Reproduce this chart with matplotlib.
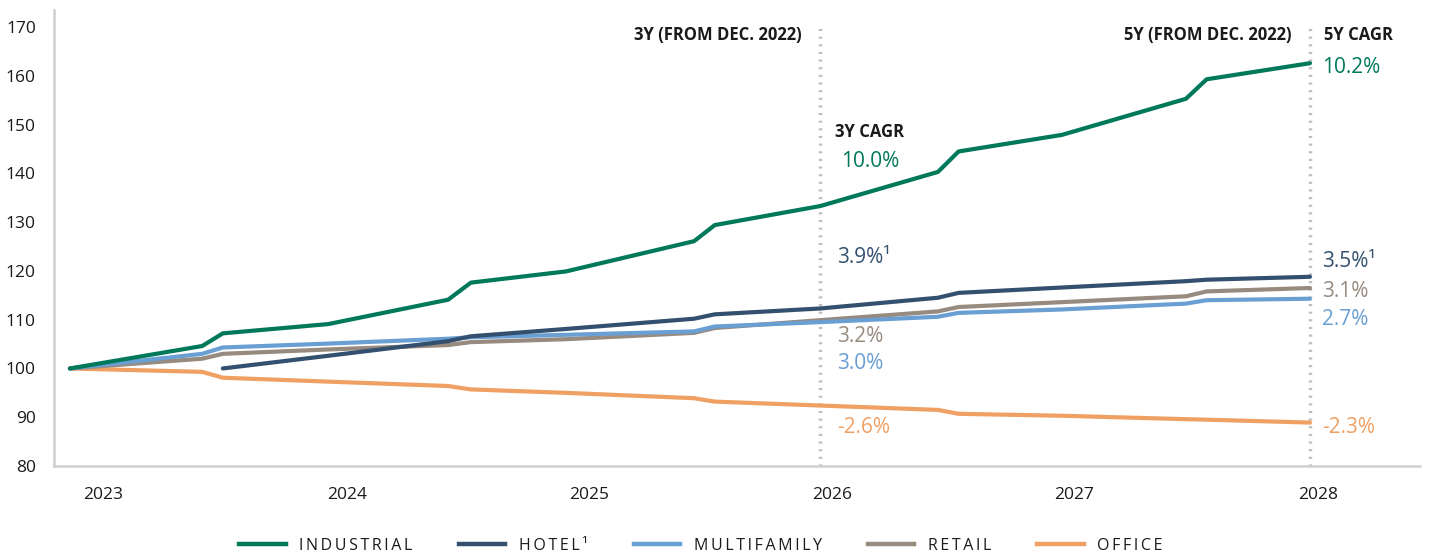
import matplotlib
matplotlib.use("Agg")
import matplotlib.pyplot as plt
from matplotlib.lines import Line2D

plt.rcParams['font.family'] = ['Open Sans', 'DejaVu Sans']

# months after Dec. 2022
months = [0, 6.4, 7.4, 12.5, 18.3, 19.4, 24, 30.2, 31.2, 36.3, 42, 43, 48, 54, 55, 60]
hotel_months = months[2:]

industrial = [100, 104.6, 107.2, 109.1, 114.1, 117.6, 119.9, 126.1, 129.4, 133.3,
              140.3, 144.5, 147.9, 155.3, 159.3, 162.6]
hotel = [100, 102.6, 105.6, 106.6, 108.1, 110.2, 111.1, 112.3,
         114.5, 115.5, 116.6, 117.9, 118.2, 118.8]
multifamily = [100, 103.0, 104.3, 105.1, 106.1, 106.4, 106.9, 107.6, 108.6, 109.5,
               110.6, 111.4, 112.1, 113.3, 114.0, 114.3]
retail = [100, 102.0, 103.0, 103.9, 104.8, 105.4, 106.0, 107.3, 108.3, 109.9,
          111.7, 112.6, 113.6, 114.8, 115.8, 116.5]
office = [100, 99.3, 98.1, 97.3, 96.4, 95.7, 95.0, 93.9, 93.2, 92.4,
          91.5, 90.7, 90.3, 89.6, 89.5, 88.9]

year_labels = ['2023', '2024', '2025', '2026', '2027', '2028']
year_pos = [1.6, 13.4, 25.1, 36.9, 48.6, 60.4]
period_ends = [36.3, 60]

cagr_3y = ['10.0%', '3.9%\u00b9', '3.2%', '3.0%', '-2.6%']
cagr_3y_y = [142.4, 122.7, 106.6, 101.0, 87.9]
cagr_5y = ['10.2%', '3.5%\u00b9', '3.1%', '2.7%', '-2.3%']
cagr_5y_y = [161.7, 121.9, 115.8, 110.0, 87.9]

names = ['INDUSTRIAL', 'HOTEL\u00b9', 'MULTIFAMILY', 'RETAIL', 'OFFICE']

c_ind = '#00785a'
c_hot = '#34506f'
c_mul = '#6a9fd4'
c_ret = '#978a7e'
c_off = '#f0a062'
label_colors = [c_ind, c_hot, c_ret, c_mul, c_off]

fig = plt.figure(figsize=(14.47, 5.58), dpi=100)
ax = fig.add_axes([0.0373, 0.1649, 0.9437, 0.8171])

lw = 3
style = dict(lw=lw, solid_capstyle='round', solid_joinstyle='round')
ax.plot(months, office, color=c_off, **style)
ax.plot(months, retail, color=c_ret, **style)
ax.plot(months, multifamily, color=c_mul, **style)
ax.plot(hotel_months, hotel, color=c_hot, **style)
ax.plot(months, industrial, color=c_ind, **style)

# period markers
ax.vlines(period_ends, 80, 170.5, colors='#bdbdbd', linestyles=(0, (0.6, 1.6)), lw=2.5, zorder=1)

ax.set_xlim(-0.77, 65.3)
ax.set_ylim(80, 173.5)
ax.set_yticks(range(80, 171, 10))
ax.set_xticks(year_pos)
ax.set_xticklabels(year_labels)
ax.tick_params(axis='y', length=0, pad=13, labelsize=12.5, labelcolor='#1a1a1a')
ax.tick_params(axis='x', length=0, pad=15, labelsize=12.5, labelcolor='#1a1a1a')
for s in ['top', 'right']:
    ax.spines[s].set_visible(False)
for s in ['left', 'bottom']:
    ax.spines[s].set_color('#d0d0d0')
    ax.spines[s].set_linewidth(1.8)

hdr = dict(fontsize=12, fontweight='bold', color='#1a1a1a', va='center')
ax.text(35.4, 168.4, '3Y (FROM DEC. 2022)', ha='right', **hdr)
ax.text(59.1, 168.4, '5Y (FROM DEC. 2022)', ha='right', **hdr)
ax.text(60.7, 168.4, '5Y CAGR', ha='left', **hdr)
ax.text(37.0, 148.4, '3Y CAGR', ha='left', **hdr)

for txt, yy, col in zip(cagr_3y, cagr_3y_y, label_colors):
    ax.text(37.3 if txt == '10.0%' else 37.1, yy, txt, color=col, fontsize=15, va='center', ha='left')
for txt, yy, col in zip(cagr_5y, cagr_5y_y, label_colors):
    ax.text(60.6, yy, txt, color=col, fontsize=15, va='center', ha='left')

# tracked-out legend labels (thin spaces between letters)
spaced = ['\u2009'.join(n) for n in names]
handles = [Line2D([], [], color=c, lw=3.2) for c in [c_ind, c_hot, c_mul, c_ret, c_off]]
fig.legend(handles, spaced, ncol=5, loc='center', bbox_to_anchor=(701 / 1447, 1 - 546 / 558),
           frameon=False, fontsize=11.5, handlelength=2.9, handletextpad=0.85, columnspacing=2.9,
           labelcolor='#1a1a1a')

fig.savefig('out.png', dpi=100)
